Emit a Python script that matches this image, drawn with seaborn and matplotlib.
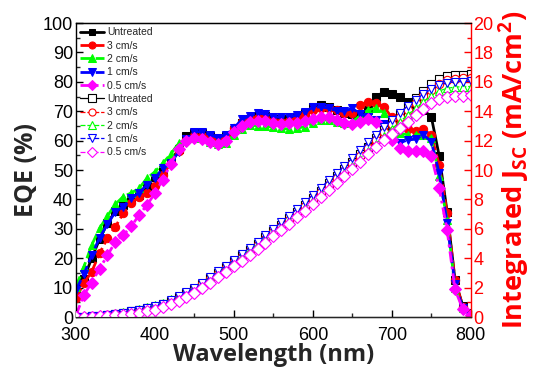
import numpy as np
import pandas as pd
import matplotlib
matplotlib.use("Agg")
import matplotlib.pyplot as plt
import seaborn as sns
from matplotlib.ticker import MultipleLocator

sns.set_style("ticks")
plt.rcParams['font.family'] = ['Liberation Sans', 'DejaVu Sans']
plt.rcParams['mathtext.fontset'] = 'custom'
plt.rcParams['mathtext.rm'] = 'Open Sans:bold'
plt.rcParams['mathtext.bf'] = 'Open Sans:bold'

wavelength = list(range(300, 801, 10))

labels = ["Untreated", "3 cm/s", "2 cm/s", "1 cm/s", "0.5 cm/s"]

eqe_untreated = [8.5, 13, 20, 26.5, 32, 36, 38, 40, 41.5, 44.5, 47.5, 50, 53, 57, 61.5, 62.5, 62.5, 61.5, 60.5, 61.5,
                 63.5, 66, 67.5, 68.5, 68.5, 67.5, 67.5, 67.5, 68, 69.5, 71.5, 72, 71.5, 70.5, 69.5, 69, 68.5, 70.5, 74.9, 76.6,
                 76, 74.7, 73.2, 71.5, 70.4, 68.1, 54.8, 35.8, 12.6, 3.7, 1.3]
eqe_3 = [6.4, 11.5, 15.4, 21.7, 26.8, 30.7, 35.3, 38.7, 41, 42.3, 44.6, 48.3, 52.3, 56.6, 60.2, 61.6, 61.6, 61, 60.5, 61.3,
         64.2, 66.5, 67.6, 67.6, 67.6, 66.8, 66.5, 66.8, 67.6, 68.7, 70.5, 71, 71, 70.3, 69.5, 69.5, 72.1, 73.2, 72.9, 71.5,
         67.9, 66, 63.8, 63.4, 63.8, 61.9, 51.7, 35.4, 12.6, 3.5, 1]
eqe_2 = [10.3, 17, 24.5, 30.2, 34.4, 38.4, 41, 42.2, 43.8, 47.2, 49.4, 52.3, 55.4, 59.1, 60.5, 61, 61, 59.6, 58.9, 59.2,
         62, 63.9, 65.3, 65, 65, 64.5, 64.2, 63.9, 64.2, 64.8, 66.1, 67, 67, 66.5, 66, 66.5, 68.5, 70.4, 71, 69.5,
         66, 62.5, 62, 62, 62, 61, 48, 33, 10, 3, 0.5]
eqe_1 = [9.2, 14.5, 21, 27, 31.6, 35.8, 37.5, 40.4, 42.3, 45, 47.2, 50.6, 52.3, 56.2, 60.5, 63, 63, 62, 61, 62,
         64.2, 67.2, 68.4, 69.5, 69, 68, 68, 68, 68.7, 69.8, 71.3, 71.5, 71, 70.2, 70, 71, 69, 68, 67, 65.5,
         63, 59.3, 60.2, 60.5, 62, 59.6, 49, 32, 11.2, 3, 0.5]
eqe_05 = [0.5, 7.5, 11.7, 16.5, 21, 25.6, 27.9, 30.8, 34.7, 38.1, 42.1, 46.6, 52.1, 57.1, 60, 61, 60.7, 59.6, 58.9, 60,
          63.1, 65, 66.5, 66.8, 66.8, 66.1, 65.8, 66.1, 66.1, 66.8, 67.5, 68, 68, 67, 66, 65.5, 66.5, 67.5, 66.5, 63,
          60.2, 57.4, 56.6, 56.6, 56.6, 54.8, 43.8, 29.6, 9.4, 2.6, 0.7]

jsc_untreated = [0, 0.02, 0.05, 0.09, 0.14, 0.21, 0.29, 0.38, 0.49, 0.61, 0.70, 0.89, 1.11, 1.36, 1.64, 1.93, 2.28, 2.65, 3.02, 3.40,
                 3.80, 4.19, 4.59, 5.0, 5.42, 5.85, 6.29, 6.73, 7.18, 7.64, 8.11, 8.60, 9.09, 9.58, 10.07, 10.57, 11.08, 11.60, 12.15, 12.72,
                 13.29, 13.84, 14.37, 14.88, 15.37, 15.82, 16.17, 16.38, 16.46, 16.49, 16.5]
jsc_3 = [0, 0.01, 0.03, 0.06, 0.11, 0.17, 0.24, 0.33, 0.43, 0.55, 0.67, 0.84, 1.05, 1.30, 1.58, 1.87, 2.22, 2.58, 2.95, 3.33,
         3.72, 4.11, 4.51, 4.92, 5.34, 5.76, 6.19, 6.63, 7.08, 7.54, 8.01, 8.49, 8.98, 9.47, 9.96, 10.46, 10.97, 11.50, 12.04, 12.58,
         13.1, 13.6, 14.08, 14.55, 15.02, 15.47, 15.85, 16.1, 16.22, 16.27, 16.29]
jsc_2 = [0, 0.02, 0.06, 0.11, 0.17, 0.25, 0.34, 0.44, 0.56, 0.69, 0.8, 0.98, 1.2, 1.44, 1.71, 2.0, 2.35, 2.70, 3.06, 3.42,
         3.8, 4.18, 4.57, 4.96, 5.36, 5.77, 6.19, 6.61, 7.04, 7.48, 7.93, 8.39, 8.86, 9.33, 9.8, 10.28, 10.77, 11.27, 11.79, 12.31,
         12.8, 13.28, 13.74, 14.2, 14.64, 15.06, 15.38, 15.56, 15.64, 15.67, 15.68]
jsc_1 = [0, 0.02, 0.05, 0.09, 0.15, 0.22, 0.30, 0.40, 0.51, 0.63, 0.72, 0.92, 1.15, 1.41, 1.69, 1.98, 2.34, 2.72, 3.10, 3.49,
         3.90, 4.30, 4.71, 5.13, 5.56, 6.0, 6.45, 6.9, 7.36, 7.82, 8.3, 8.8, 9.3, 9.8, 10.3, 10.82, 11.35, 11.88, 12.4, 12.92,
         13.42, 13.9, 14.35, 14.78, 15.18, 15.5, 15.78, 15.93, 16.0, 16.02, 16.03]
jsc_05 = [0, 0.0, 0.02, 0.04, 0.07, 0.11, 0.16, 0.22, 0.3, 0.39, 0.5, 0.66, 0.86, 1.1, 1.37, 1.66, 1.99, 2.34, 2.7, 3.07,
          3.45, 3.84, 4.24, 4.65, 5.06, 5.48, 5.91, 6.35, 6.79, 7.24, 7.7, 8.17, 8.65, 9.13, 9.61, 10.09, 10.58, 11.08, 11.58, 12.06,
          12.45, 12.88, 13.3, 13.72, 14.14, 14.55, 14.83, 14.98, 15.04, 15.06, 15.07]

eqe_series = [eqe_untreated, eqe_3, eqe_2, eqe_1, eqe_05]
jsc_series = [jsc_untreated, jsc_3, jsc_2, jsc_1, jsc_05]

colors = ["#000000", "#FF0000", "#00FF00", "#0000FF", "#FF00FF"]
markers = ["s", "o", "^", "v", "D"]
msizes = [5.5, 6, 6, 6, 6]
lstyles = ["-", (0, (4, 1.5)), (0, (4, 1.5)), (0, (4, 1.5)), (0, (4, 1.5, 1, 1.5))]

fig = plt.figure(figsize=(5.5, 3.9), dpi=100)
ax = fig.add_axes([0.138, 0.187, 0.718, 0.754])
ax2 = ax.twinx()

handles = []
for lab, y, c, m, ms, ls in zip(labels, eqe_series, colors, markers, msizes, lstyles):
    df = pd.DataFrame({"wl": wavelength, "v": y})
    sns.lineplot(data=df, x="wl", y="v", ax=ax, color=c, marker=m, markersize=ms,
                 markeredgecolor=c, markerfacecolor=c, linestyle=ls, linewidth=2.0, legend=False)
    handles.append(ax.lines[-1])

handles2 = []
for lab, y, c, m, ls in zip(labels, jsc_series, colors, markers, lstyles):
    df = pd.DataFrame({"wl": wavelength, "v": y})
    sns.lineplot(data=df, x="wl", y="v", ax=ax2, color=c, marker=m, markersize=6,
                 markeredgecolor=c, markerfacecolor="white", markeredgewidth=0.8,
                 linestyle=ls, linewidth=0.9, legend=False)
    handles2.append(ax2.lines[-1])

ax.set_xlim(300, 800)
ax.set_ylim(0, 100)
ax2.set_ylim(0, 20)

ax.xaxis.set_major_locator(MultipleLocator(100))
ax.xaxis.set_minor_locator(MultipleLocator(50))
ax.yaxis.set_major_locator(MultipleLocator(10))
ax.yaxis.set_minor_locator(MultipleLocator(5))
ax2.yaxis.set_major_locator(MultipleLocator(2))
ax2.yaxis.set_minor_locator(MultipleLocator(1))

ax.tick_params(axis="both", which="major", direction="in", length=5, width=1, labelsize=13, pad=2, colors="black")
ax.tick_params(axis="x", which="major", pad=7.5)
ax.tick_params(axis="both", which="minor", direction="in", length=3, width=1)
ax.tick_params(axis="x", top=False, which="both")
ax2.tick_params(axis="y", which="major", direction="in", length=5, width=1, labelsize=13, pad=2,
                colors="#FF0000")
ax2.tick_params(axis="y", which="minor", direction="in", length=3, width=1, colors="#FF0000")

for s in ["left", "bottom", "top"]:
    ax.spines[s].set_linewidth(1)
    ax.spines[s].set_color("black")
ax2.spines["right"].set_color("#FF0000")
ax2.spines["right"].set_linewidth(1)
ax2.spines["left"].set_visible(False)
ax2.spines["top"].set_color("black")
ax.spines["right"].set_visible(False)

ax.set_xlabel("Wavelength (nm)", fontsize=17, fontweight="bold", family="Open Sans", labelpad=-1)
ax.set_ylabel("EQE (%)", fontsize=18, fontweight="bold", family="Open Sans", labelpad=3)
ax2.set_ylabel(r"Integrated J$_{\mathregular{SC}}$ (mA/cm$^{\mathregular{2}}$)", fontsize=19.5,
               fontweight="bold", family="Open Sans", color="#FF0000", labelpad=2)

leg = ax2.legend(handles + handles2, labels + labels, loc="upper left", frameon=False,
                 fontsize=7.5, labelspacing=0.32, handlelength=2.3, handletextpad=0.3,
                 borderaxespad=0.3, borderpad=0.1, markerscale=0.85)

fig.savefig("out.png", dpi=100)
